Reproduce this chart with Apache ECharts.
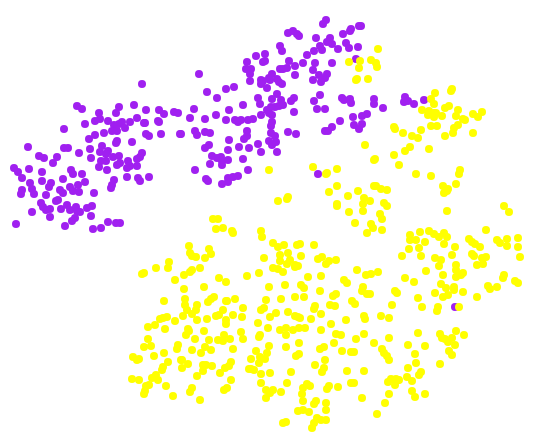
<!DOCTYPE html>
<html>
<head>
<meta charset="utf-8">
<style>
html, body { margin: 0; padding: 0; background: #fff; }
#main { width: 543px; height: 435px; }
</style>
<script src="https://cdn.jsdelivr.net/npm/echarts@6/dist/echarts.min.js"></script>
</head>
<body>
<div id="main"></div>
<script>
// values
const purplePoints = [
  [142,84],[77,106],[82,109],[119,107],[134,105],[116,113],[99,113],[146,110],[159,110],[164,114],[174,112],[178,113],
  [100,119],[95,121],[85,124],[108,121],[137,118],[130,122],[122,122],[114,125],[119,124],[144,123],[145,123],[158,121],
  [159,122],[64,129],[112,131],[117,131],[125,128],[95,135],[104,133],[89,139],[146,134],[149,136],[161,134],[180,134],
  [117,141],[116,143],[132,142],[28,147],[64,148],[68,148],[102,146],[90,149],[79,153],[108,151],[100,152],[106,154],
  [39,156],[44,158],[57,157],[91,158],[113,157],[119,156],[142,153],[140,157],[137,159],[53,163],[101,161],[106,161],
  [120,163],[117,165],[128,161],[99,167],[107,170],[130,166],[137,166],[127,168],[14,168],[18,172],[29,169],[42,172],
  [71,170],[73,174],[82,174],[22,178],[63,179],[114,180],[127,177],[138,178],[140,181],[149,177],[42,181],[30,183],
  [51,183],[49,187],[85,182],[78,185],[112,185],[111,188],[70,187],[73,191],[32,189],[22,190],[21,194],[60,190],
  [63,193],[79,192],[34,194],[46,195],[94,193],[58,200],[56,201],[41,203],[43,207],[46,210],[50,209],[67,205],
  [70,210],[76,207],[77,211],[80,212],[61,209],[87,208],[92,206],[32,212],[91,216],[50,217],[75,218],[72,221],
  [16,224],[65,226],[93,229],[101,228],[108,222],[116,223],[120,223],
  [326,20],[323,24],[359,26],[361,26],[351,29],[350,31],[343,34],[288,33],[293,31],[297,34],[299,36],[316,38],
  [330,38],[327,42],[332,44],[320,46],[322,50],[346,43],[349,48],[358,47],[338,49],[314,51],[280,46],[282,51],
  [265,54],[256,56],[307,55],[356,59],[289,61],[247,62],[265,61],[263,62],[303,63],[315,63],[332,63],[295,66],
  [287,68],[283,69],[280,69],[246,69],[251,69],[313,70],[199,74],[250,74],[295,75],[272,74],[319,75],[327,74],
  [325,78],[269,78],[277,79],[313,80],[250,81],[261,80],[263,81],[270,80],[279,82],[282,84],[321,82],[261,84],
  [267,88],[234,87],[226,89],[207,92],[277,94],[320,95],[217,98],[258,98],[272,99],[294,98],[291,101],[281,100],
  [342,98],[344,100],[350,99],[351,103],[374,99],[374,104],[314,101],[260,104],[283,105],[243,105],[279,106],[275,107],
  [271,107],[267,110],[229,110],[194,109],[317,109],[325,109],[383,108],[294,112],[269,113],[272,115],[261,115],[216,115],
  [367,114],[362,116],[353,117],[190,118],[205,119],[226,120],[235,120],[238,122],[241,120],[248,120],[253,119],[272,122],
  [271,126],[340,121],[354,125],[362,124],[359,129],[332,127],[328,131],[325,131],[247,131],[195,131],[197,135],[205,132],
  [210,133],[181,134],[288,132],[296,134],[271,133],[275,136],[247,136],[244,139],[229,140],[269,141],[276,142],[272,145],
  [258,144],[239,147],[249,148],[209,145],[205,148],[228,150],[261,152],[277,152],[212,156],[217,158],[221,157],[222,161],
  [228,160],[243,159],[210,164],[222,165],[195,170],[248,170],[206,179],[208,181],[228,178],[233,177],[238,176],[228,182],
  [222,184],[318,174],[405,97],[404,102],[408,101],[414,104],[424,100],[455,307]
];
const yellowPoints = [
  [378,49],[349,62],[360,61],[371,60],[376,63],[377,67],[359,68],[357,79],[356,80],[368,79],[435,93],[452,89],
  [451,91],[431,99],[434,104],[422,110],[445,108],[449,106],[458,110],[429,111],[428,115],[434,113],[436,113],[434,117],
  [442,116],[473,114],[482,112],[478,117],[456,116],[463,119],[465,120],[431,126],[437,126],[458,125],[454,128],[394,127],
  [395,129],[421,130],[403,133],[453,133],[473,133],[412,136],[418,138],[445,136],[365,145],[410,147],[405,151],[429,149],
  [394,155],[375,159],[374,160],[399,165],[313,167],[337,169],[327,173],[326,174],[416,174],[431,176],[460,170],[459,174],
  [269,170],[337,186],[374,186],[376,186],[443,186],[456,184],[381,189],[387,190],[358,191],[329,192],[448,189],[447,191],
  [444,193],[348,196],[364,198],[370,201],[363,204],[337,204],[337,206],[384,203],[387,206],[363,211],[349,212],[447,211],
  [504,206],[509,212],[380,214],[382,219],[355,223],[371,224],[373,228],[382,230],[367,233],[486,230],[420,232],[429,231],
  [434,234],[444,233],[410,235],[439,237],[447,237],[469,239],[497,240],[507,239],[518,238],[410,240],[416,240],[425,242],
  [472,242],[475,244],[480,247],[500,243],[507,246],[444,244],[419,248],[409,249],[455,247],[518,247],[288,197],[278,201],
  [287,199],
  [213,219],[218,219],[216,229],[223,228],[232,231],[233,233],[189,246],[209,249],[190,253],[192,256],[196,257],[205,258],
  [211,254],[169,262],[168,268],[156,268],[200,268],[192,270],[190,272],[144,273],[142,274],[184,275],[247,276],[219,278],
  [175,280],[226,282],[204,287],[184,289],[214,297],[211,299],[208,302],[185,299],[164,301],[227,301],[226,301],[235,299],
  [185,305],[197,305],[187,310],[196,310],[243,308],[223,310],[192,314],[219,315],[216,316],[183,316],[233,315],[242,317],
  [167,317],[163,318],[160,319],[175,321],[197,320],[207,319],[226,320],[226,324],[148,327],[155,325],[165,329],[188,329],
  [189,331],[204,331],[241,332],[186,335],[224,335],[148,339],[195,339],[209,340],[218,340],[223,341],[230,339],[243,339],
  [151,346],[144,347],[178,345],[177,349],[205,347],[192,350],[211,350],[233,349],[201,353],[164,353],[133,357],[154,356],
  [139,359],[137,360],[168,362],[181,360],[182,360],[188,364],[231,362],[203,365],[206,365],[212,366],[229,366],[225,368],
  [182,368],[163,367],[162,370],[249,369],[203,371],[220,373],[197,376],[132,379],[139,380],[152,378],[155,377],[156,375],
  [158,380],[231,380],[166,386],[149,385],[146,386],[192,388],[227,388],[224,390],[145,391],[144,394],[190,392],[173,396],
  [200,400],
  [261,231],[262,237],[273,243],[278,247],[284,245],[297,245],[300,244],[314,245],[288,253],[280,255],[301,256],[264,258],
  [290,260],[287,264],[280,261],[318,259],[322,257],[329,261],[326,264],[336,260],[273,268],[278,269],[283,272],[295,265],
  [295,267],[298,266],[259,273],[308,277],[321,276],[357,270],[366,275],[371,274],[378,272],[344,280],[347,283],[269,287],
  [285,285],[301,285],[304,288],[320,291],[363,287],[362,291],[367,294],[370,294],[395,291],[397,293],[336,294],[333,296],
  [295,297],[304,297],[281,299],[266,300],[352,301],[355,304],[392,305],[315,306],[314,309],[330,305],[335,306],[264,308],
  [261,310],[276,313],[288,312],[270,317],[295,316],[298,317],[300,318],[321,314],[311,319],[364,316],[365,319],[381,316],
  [389,318],[346,320],[258,323],[331,324],[268,328],[286,328],[280,330],[293,330],[299,328],[305,328],[321,330],[260,335],
  [259,337],[286,335],[336,334],[341,335],[364,334],[356,339],[389,338],[299,343],[334,343],[374,343],[269,346],[286,347],
  [320,349],[324,347],[382,349],[256,351],[267,353],[342,351],[351,352],[354,352],[384,353],[387,356],[299,354],[296,356],
  [260,357],[265,359],[251,359],[389,360],[325,360],[259,363],[315,365],[324,368],[322,372],[347,371],[364,371],[251,369],
  [254,370],[291,372],[270,373],[261,374],[261,383],[287,383],[351,383],[354,383],[388,382],[391,379],[396,379],[395,385],
  [398,380],[307,384],[310,386],[303,388],[329,386],[327,389],[338,387],[266,390],[273,390],[270,393],[281,392],[302,394],
  [389,394],[266,398],[362,398],[303,401],[316,401],[314,404],[326,403],[385,403],[326,410],[298,411],[303,410],[309,412],
  [377,414],[317,418],[314,423],[321,420],[326,420],[283,423],[286,422],[312,428],
  [402,256],[421,256],[435,258],[441,260],[452,255],[472,254],[474,256],[482,258],[486,257],[520,257],[477,265],[483,264],
  [456,265],[439,266],[456,270],[426,271],[463,273],[461,275],[443,275],[456,277],[504,275],[503,278],[405,278],[414,282],
  [441,284],[446,288],[454,287],[454,290],[488,286],[490,289],[497,287],[515,281],[518,283],[435,293],[463,292],[443,297],
  [448,295],[477,297],[418,298],[422,307],[438,307],[437,311],[459,307],[456,331],[418,333],[440,334],[464,335],[442,338],
  [452,338],[445,339],[448,342],[408,345],[425,346],[455,345],[449,351],[452,355],[415,354],[416,363],[440,364],[408,368],
  [421,372],[419,375],[407,377],[412,381],[399,380],[412,391],[425,394],[415,397]
];
const purpleColor = '#a020f0';
const yellowColor = '#ffff00';

const chart = echarts.init(document.getElementById('main'));
chart.setOption({
  animation: false,
  grid: { left: 0, right: 0, top: 0, bottom: 0 },
  xAxis: { type: 'value', min: 0, max: 543, show: false },
  yAxis: { type: 'value', min: 0, max: 435, inverse: true, show: false },
  series: [
    {
      type: 'scatter',
      symbolSize: 8,
      data: purplePoints,
      itemStyle: { color: purpleColor, opacity: 1 }
    },
    {
      type: 'scatter',
      symbolSize: 8,
      data: yellowPoints,
      itemStyle: { color: yellowColor, opacity: 1 }
    }
  ]
});
</script>
</body>
</html>
